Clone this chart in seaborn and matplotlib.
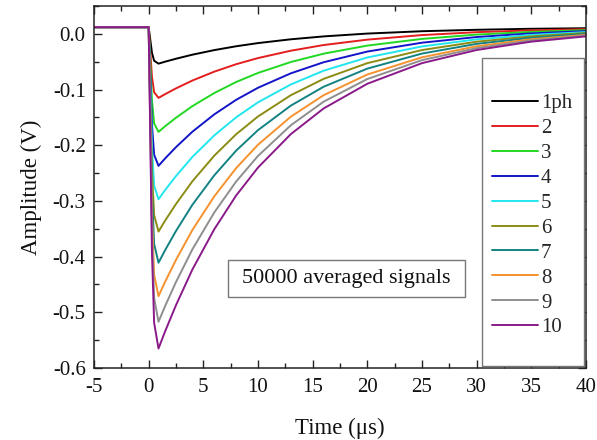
import numpy as np
import pandas as pd
import matplotlib
matplotlib.use("Agg")
import matplotlib.pyplot as plt
from matplotlib.patches import Rectangle
from matplotlib.ticker import MultipleLocator
import seaborn as sns

# ---- data ----
time_us = [-5, 0, 0.15, 0.3, 0.5, 0.9, 1.5, 2.5, 4, 6, 8, 10, 13, 16, 20, 25, 30, 35, 40]

labels = ["1ph", "2", "3", "4", "5", "6", "7", "8", "9", "10"]

s_1ph = [0.012, 0.012, -0.0109, -0.0339, -0.0483, -0.0535, -0.0500, -0.0447, -0.0374, -0.0292,
         -0.0223, -0.0166, -0.0098, -0.0046, 0.0005, 0.0047, 0.0073, 0.0091, 0.0101]
s_2 = [0.012, 0.012, -0.0325, -0.0769, -0.1048, -0.115, -0.1083, -0.0979, -0.0838, -0.0679,
       -0.0545, -0.0435, -0.0303, -0.0201, -0.0104, -0.0022, 0.0030, 0.0063, 0.0084]
s_3 = [0.012, 0.012, -0.0538, -0.1196, -0.1610, -0.176, -0.1660, -0.1506, -0.1298, -0.1063,
       -0.0865, -0.0702, -0.0506, -0.0356, -0.0211, -0.0091, -0.0013, 0.0035, 0.0066]
s_4 = [0.012, 0.012, -0.0752, -0.1623, -0.2171, -0.237, -0.2238, -0.2034, -0.1757, -0.1446,
       -0.1185, -0.0968, -0.0709, -0.0510, -0.0318, -0.0159, -0.0057, 0.0008, 0.0049]
s_5 = [0.012, 0.012, -0.0962, -0.2043, -0.2723, -0.297, -0.2806, -0.2553, -0.2210, -0.1824,
       -0.1499, -0.1230, -0.0909, -0.0662, -0.0424, -0.0226, -0.0099, -0.0019, 0.0032]
s_6 = [0.012, 0.012, -0.1165, -0.2449, -0.3256, -0.355, -0.3355, -0.3055, -0.2647, -0.2188,
       -0.1803, -0.1484, -0.1102, -0.0809, -0.0526, -0.0291, -0.0141, -0.0045, 0.0015]
s_7 = [0.012, 0.012, -0.1361, -0.2841, -0.3772, -0.411, -0.3886, -0.3539, -0.3069, -0.2541,
       -0.2097, -0.1729, -0.1289, -0.0950, -0.0624, -0.0354, -0.0180, -0.0070, -0.0001]
s_8 = [0.012, 0.012, -0.1571, -0.3261, -0.4324, -0.471, -0.4454, -0.4058, -0.3522, -0.2918,
       -0.2411, -0.1991, -0.1488, -0.1102, -0.0730, -0.0421, -0.0223, -0.0097, -0.0018]
s_9 = [0.012, 0.012, -0.1732, -0.3583, -0.4747, -0.517, -0.4890, -0.4456, -0.3869, -0.3207,
       -0.2652, -0.2192, -0.1642, -0.1218, -0.0811, -0.0472, -0.0256, -0.0118, -0.0031]
s_10 = [0.012, 0.012, -0.1900, -0.3919, -0.5188, -0.565, -0.5344, -0.4871, -0.4231, -0.3509,
        -0.2903, -0.2401, -0.1801, -0.1340, -0.0896, -0.0526, -0.0290, -0.0140, -0.0045]

series = [s_1ph, s_2, s_3, s_4, s_5, s_6, s_7, s_8, s_9, s_10]

colors = ["#000000", "#e31e1e", "#22d822", "#1414c8", "#22e6ee",
          "#8c8c14", "#138282", "#f5922e", "#8e8e8e", "#8a1a8a"]

xticks = [-5, 0, 5, 10, 15, 20, 25, 30, 35, 40]
yticks = [-0.6, -0.5, -0.4, -0.3, -0.2, -0.1, 0.0]

annotation = "50000 averaged signals"

# ---- long-form table ----
rows = []
for lab, vals in zip(labels, series):
    for t, v in zip(time_us, vals):
        rows.append({"Time": t, "Amplitude": v, "Signal": lab})
df = pd.DataFrame(rows)

sns.set_style("ticks")
plt.rcParams["font.family"] = ["Liberation Serif", "DejaVu Serif"]
plt.rcParams["axes.unicode_minus"] = False

fig = plt.figure(figsize=(5.97, 4.40), dpi=100)
ax = fig.add_axes([94 / 597, 72 / 440, 492 / 597, 362 / 440])

sns.lineplot(data=df, x="Time", y="Amplitude", hue="Signal", hue_order=labels,
             palette=colors, linewidth=1.4, legend=False, ax=ax, sort=False,
             estimator=None)

ax.set_xlim(-5, 40)
ax.set_ylim(-0.6, 0.05)
ax.set_xticks(xticks)
ax.set_yticks(yticks)
ax.set_xticklabels([str(v) for v in xticks])
ax.set_yticklabels([f"{v:.1f}" for v in yticks])
ax.xaxis.set_minor_locator(MultipleLocator(2.5))
ax.yaxis.set_minor_locator(MultipleLocator(0.05))

for s in ax.spines.values():
    s.set_visible(True)
    s.set_linewidth(1.1)
    s.set_color("#222222")

ax.tick_params(which="both", direction="in", top=True, right=True, color="#222222")
ax.tick_params(which="major", length=6, width=1.0, labelsize=15, labelcolor="#111111")
ax.tick_params(which="minor", length=3.5, width=1.0)
ax.tick_params(axis="x", which="major", pad=7)
ax.tick_params(axis="y", which="major", pad=6)

ax.set_xlabel("Time (μs)", fontsize=16.5, labelpad=15, color="#111111")
ax.set_ylabel("Amplitude (V)", fontsize=16.5, labelpad=8, color="#111111")

# legend frame
ax.add_patch(Rectangle((0.789, 0.005), 0.207, 0.851, transform=ax.transAxes,
                       facecolor="white", edgecolor="#777777", linewidth=1.0, zorder=3))
handles = ax.get_lines()[:len(labels)]
leg = ax.legend(handles, labels, loc="center left", bbox_to_anchor=(0.809, 0.421),
                frameon=False, fontsize=15, handlelength=2.2, handletextpad=0.15,
                labelspacing=0.255, borderpad=0, borderaxespad=0)
leg.set_zorder(4)

# annotation box
ax.add_patch(Rectangle((7.3, -0.473), 21.6, 0.0665, facecolor="white",
                       edgecolor="#777777", linewidth=1.0, zorder=4))
ax.text(18.1, -0.4395, annotation, fontsize=16, ha="center", va="center",
        color="#111111", zorder=5)

fig.savefig("out.png", dpi=100, facecolor="white")
